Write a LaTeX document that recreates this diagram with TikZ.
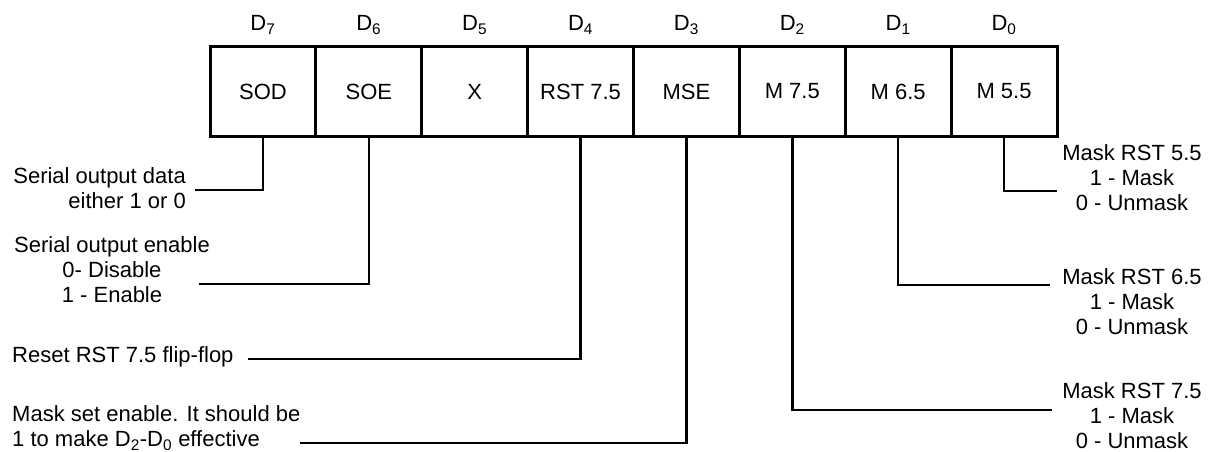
\documentclass[tikz,border=0pt]{standalone}
\usepackage{fontspec}
\setmainfont{Liberation Sans}
\newcommand\lblfont{\fontsize{22}{25}\selectfont}
\begin{document}
\begin{tikzpicture}[x=1pt,y=-1pt,
  cell/.style={draw, line width=3pt, minimum width=105.875pt, minimum height=89pt, inner sep=0pt, font=\lblfont},
  lbl/.style={inner sep=0pt, font=\lblfont},
  bitlbl/.style={inner sep=0pt, font=\lblfont, anchor=base},
  conn/.style={draw, line width=2.6pt}]
\useasboundingbox (0,0) rectangle (1216,452);
% register cells
\node[cell] (c7) at (262.94,91.5) {SOD};
\node[cell] (c6) at (368.81,91.5) {SOE};
\node[cell] (c5) at (474.69,91.5) {X};
\node[cell] (c4) at (580.56,91.5) {RST 7.5};
\node[cell] (c3) at (686.44,91.5) {MSE};
\node[cell] (c2) at (792.31,91.5) {M 7.5};
\node[cell] (c1) at (898.19,91.5) {M 6.5};
\node[cell] (c0) at (1004.06,91.5) {M 5.5};
% bit labels
\node[bitlbl] (d7) at (262.94,31) {D\textsubscript{7}};
\node[bitlbl] (d6) at (368.81,31) {D\textsubscript{6}};
\node[bitlbl] (d5) at (474.69,31) {D\textsubscript{5}};
\node[bitlbl] (d4) at (580.56,31) {D\textsubscript{4}};
\node[bitlbl] (d3) at (686.44,31) {D\textsubscript{3}};
\node[bitlbl] (d2) at (792.31,31) {D\textsubscript{2}};
\node[bitlbl] (d1) at (898.19,31) {D\textsubscript{1}};
\node[bitlbl] (d0) at (1004.06,31) {D\textsubscript{0}};
% left descriptions
\node[lbl, align=right, anchor=east] (lsod) at (186,188) {Serial output data\\either 1 or 0};
\node[lbl, align=center] (lsoe) at (112,270) {Serial output enable\\0- Disable\\1 - Enable};
\node[lbl, anchor=west] (lrst) at (12,357) {Reset RST 7.5 flip-flop};
\node[lbl, align=left, anchor=west] (lmse) at (12,428) {Mask set enable. It should be\\1 to make D\textsubscript{2}-D\textsubscript{0} effective};
% right descriptions
\node[lbl, align=center] (l0) at (1132,178) {Mask RST 5.5\\1 - Mask\\0 - Unmask};
\node[lbl, align=center] (l1) at (1132,302) {Mask RST 6.5\\1 - Mask\\0 - Unmask};
\node[lbl, align=center] (l2) at (1132,416) {Mask RST 7.5\\1 - Mask\\0 - Unmask};
% connector ends
\coordinate (e7) at (195,190);
\coordinate (e6) at (199,284);
\coordinate (e4) at (248,359);
\coordinate (e3) at (300,443);
\coordinate (e2) at (1052,410);
\coordinate (e1) at (1050,285);
\coordinate (e0) at (1057,191);
% connectors
\draw[conn] (c7.south) |- (e7);
\draw[conn] (c6.south) |- (e6);
\draw[conn] (c4.south) |- (e4);
\draw[conn] (c3.south) |- (e3);
\draw[conn] (c2.south) |- (e2);
\draw[conn] (c1.south) |- (e1);
\draw[conn] (c0.south) |- (e0);
\end{tikzpicture}
\end{document}
